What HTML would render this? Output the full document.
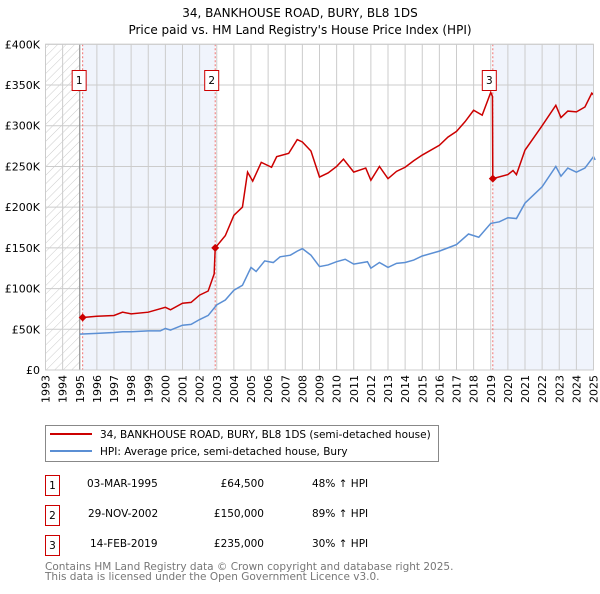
<!DOCTYPE html>
<html><head><meta charset="utf-8"><style>
body{margin:0;background:#fff;width:600px;height:590px;overflow:hidden;font-family:"DejaVu Sans","Liberation Sans",sans-serif}
svg text{font-family:"DejaVu Sans","Liberation Sans",sans-serif}
</style></head><body>
<svg id="c" width="600" height="590" xmlns="http://www.w3.org/2000/svg">
<defs><pattern id="hatch" width="6" height="6" patternUnits="userSpaceOnUse" patternTransform="rotate(45)"><line x1="0" y1="0" x2="0" y2="6" stroke="#ccc" stroke-width="1"/></pattern></defs>
<text x="300" y="17" text-anchor="middle" font-size="12">34, BANKHOUSE ROAD, BURY, BL8 1DS</text>
<text x="300" y="34" text-anchor="middle" font-size="12">Price paid vs. HM Land Registry's House Price Index (HPI)</text>
<g id="plot"></g>
<rect x="45.5" y="425.5" width="393" height="36" fill="#fff" stroke="#888"/>
<line x1="50" y1="434" x2="92" y2="434" stroke="#cc0000" stroke-width="2"/>
<text x="100" y="438" font-size="10.5">34, BANKHOUSE ROAD, BURY, BL8 1DS (semi-detached house)</text>
<line x1="50" y1="451" x2="92" y2="451" stroke="#5b8fd4" stroke-width="2"/>
<text x="100" y="455" font-size="10.5">HPI: Average price, semi-detached house, Bury</text>
<g font-size="10.5">
<rect x="45.5" y="475.5" width="14" height="20" fill="none" stroke="#cc0000"/><text x="52.5" y="489" text-anchor="middle">1</text>
<text x="87" y="487">03-MAR-1995</text><text x="264" y="487" text-anchor="end">£64,500</text><text x="312" y="487">48% ↑ HPI</text>
<rect x="45.5" y="505.5" width="14" height="20" fill="none" stroke="#cc0000"/><text x="52.5" y="519" text-anchor="middle">2</text>
<text x="88" y="517">29-NOV-2002</text><text x="264" y="517" text-anchor="end">£150,000</text><text x="312" y="517">89% ↑ HPI</text>
<rect x="45.5" y="535.5" width="14" height="20" fill="none" stroke="#cc0000"/><text x="52.5" y="549" text-anchor="middle">3</text>
<text x="90" y="547">14-FEB-2019</text><text x="264" y="547" text-anchor="end">£235,000</text><text x="312" y="547">30% ↑ HPI</text>
</g>
<text x="45" y="570" font-size="10.5" fill="#777">Contains HM Land Registry data © Crown copyright and database right 2025.</text>
<text x="45" y="580" font-size="10.5" fill="#777">This data is licensed under the Open Government Licence v3.0.</text>
</svg>
<script>
const yearTicks=[1993,1994,1995,1996,1997,1998,1999,2000,2001,2002,2003,2004,2005,2006,2007,2008,2009,2010,2011,2012,2013,2014,2015,2016,2017,2018,2019,2020,2021,2022,2023,2024,2025];
const priceTicks=[0,50,100,150,200,250,300,350,400];
const priceLabels=["£0","£50K","£100K","£150K","£200K","£250K","£300K","£350K","£400K"];
const hpiYears=[1995,1996,1997,1997.5,1998,1999,1999.7,2000,2000.3,2001,2001.5,2002,2002.5,2003,2003.5,2004,2004.5,2005,2005.3,2005.8,2006.3,2006.7,2007.3,2007.7,2008,2008.5,2009,2009.5,2010,2010.5,2011,2011.8,2012,2012.5,2013,2013.5,2014,2014.5,2015,2016,2016.5,2017,2017.7,2018.3,2019,2019.5,2020,2020.5,2021,2021.5,2022,2022.8,2023.1,2023.5,2024,2024.5,2025,2025.1];
const hpiValues=[44,45,46,47,47,48,48,51,49,55,56,62,67,80,86,98,104,126,121,134,132,139,141,146,149,141,127,129,133,136,130,133,125,132,126,131,132,135,140,146,150,154,167,163,180,182,187,186,205,215,225,250,238,248,243,248,262,258];
const saleYears=[1995.17,2002.91,2019.12];
const saleValues=[64.5,150,235];
const ppYears=[1995.17,1996,1997,1997.5,1998,1999,2000,2000.3,2001,2001.5,2002,2002.5,2002.85,2002.91,2003.5,2004,2004.5,2004.8,2005.1,2005.6,2006.2,2006.5,2007.2,2007.7,2008,2008.5,2009,2009.5,2010,2010.4,2011,2011.7,2012,2012.5,2013,2013.5,2014,2014.5,2015,2016,2016.5,2017,2017.5,2018,2018.5,2019.0,2019.1,2019.12,2020,2020.3,2020.5,2021,2021.5,2022,2022.8,2023.1,2023.5,2024,2024.5,2024.9,2025];
const ppValues=[64.5,66,67,71,69,71,77,74,82,83,92,97,118,150,165,190,200,243,232,255,249,262,266,283,280,269,237,242,250,259,243,248,233,250,235,244,249,257,264,276,286,293,305,319,313,341,336,235,240,245,240,270,285,300,325,310,318,317,323,340,338];
const X0=45.5,X1=593.5,Y0=370,Y1=44.3;
const xs=y=>X0+(y-1993)/(2025-1993)*(X1-X0);
const ys=v=>Y0-v/400*(Y0-Y1);
const NS="http://www.w3.org/2000/svg";
const g=document.getElementById('plot');
function mk(t,a){const e=document.createElementNS(NS,t);for(const k in a)e.setAttribute(k,a[k]);g.appendChild(e);return e;}
let e;
e=mk('rect',{x:xs(1993),y:Y1,width:xs(1995)-xs(1993),height:Y0-Y1,fill:'url(#hatch)'});


e=mk('rect',{x:xs(saleYears[0]),y:Y1,width:xs(saleYears[1])-xs(saleYears[0]),height:Y0-Y1,fill:'#f0f4fc'});


e=mk('rect',{x:xs(saleYears[2]),y:Y1,width:X1-xs(saleYears[2]),height:Y0-Y1,fill:'#f0f4fc'});


yearTicks.forEach(yr=>{
 e=mk('line',{x1:xs(yr),x2:xs(yr),y1:Y1,y2:Y0,stroke:'#ccc'});
 
 
 e=mk('text',{x:0,y:0,'font-size':'11','text-anchor':'end',transform:`translate(${xs(yr)+4},${Y0+5}) rotate(-90)`});
 e.textContent=yr;
 
 
});
priceTicks.forEach((v,i)=>{
 e=mk('line',{x1:X0,x2:X1,y1:ys(v),y2:ys(v),stroke:'#ccc'});
 
 
 e=mk('text',{x:40,y:ys(v)+4,'font-size':'11','text-anchor':'end'});
 e.textContent=priceLabels[i];
 
 
});
e=mk('line',{x1:xs(1995),x2:xs(1995),y1:Y1,y2:Y0,stroke:'#888'});


saleYears.forEach((yr,i)=>{
 e=mk('line',{x1:xs(yr),x2:xs(yr),y1:Y1,y2:Y0,stroke:'#f07070','stroke-dasharray':'2,2'});
 
 
});
e=mk('polyline',{points:hpiYears.map((y,i)=>xs(y)+','+ys(hpiValues[i])).join(' '),fill:'none',stroke:'#5b8fd4','stroke-width':'1.5'});


e=mk('polyline',{points:ppYears.map((y,i)=>xs(y)+','+ys(ppValues[i])).join(' '),fill:'none',stroke:'#cc0000','stroke-width':'1.5'});


saleYears.forEach((yr,i)=>{
 const cx=xs(yr),cy=ys(saleValues[i]);
 e=mk('polygon',{points:`${cx-4},${cy} ${cx},${cy-4} ${cx+4},${cy} ${cx},${cy+4}`,fill:'#cc0000'});
 
 
 e=mk('rect',{x:cx-10.5,y:70.5,width:14,height:20,fill:'#fff',stroke:'#cc0000'});
 
 
 e=mk('text',{x:cx-3.5,y:84,'font-size':'10.5','text-anchor':'middle'});
 e.textContent=String(i+1);
 
 
});
e=mk('rect',{x:X0,y:Y1,width:X1-X0,height:Y0-Y1,fill:'none',stroke:'#ccc'});


</script>
</body></html>
